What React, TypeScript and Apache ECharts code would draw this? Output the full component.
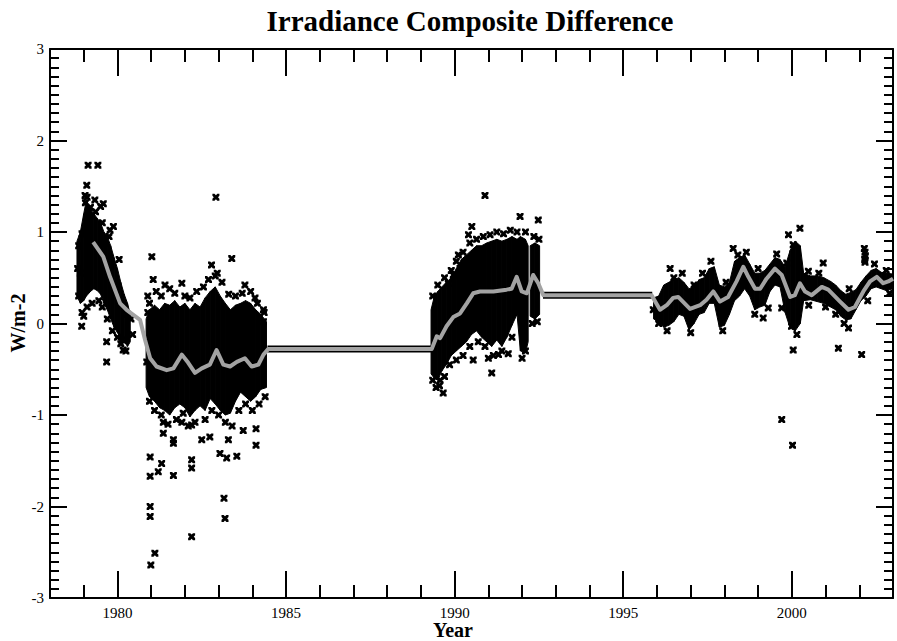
import React, { useEffect, useRef } from 'react';
import * as echarts from 'echarts';

const chartTitle = 'Irradiance Composite Difference';
const xAxisName = 'Year';
const yAxisName = 'W/m-2';
const xMajorTicks = [1980, 1985, 1990, 1995, 2000];

// envelope of the dense daily points: [year, low, high, segment]
const coreEnvelope: number[][] = [
  [1978.80, 0.30, 0.90, 0], [1978.90, 0.22, 1.00, 0], [1979.00, 0.25, 1.20, 0],
  [1979.08, 0.30, 1.35, 0], [1979.20, 0.35, 1.25, 0], [1979.30, 0.38, 1.20, 0],
  [1979.40, 0.36, 1.15, 0], [1979.50, 0.32, 1.10, 0], [1979.60, 0.22, 1.00, 0],
  [1979.70, 0.15, 0.95, 0], [1979.80, 0.05, 0.85, 0], [1979.90, -0.04, 0.72, 0],
  [1980.00, -0.10, 0.60, 0], [1980.10, -0.16, 0.45, 0], [1980.20, -0.20, 0.32, 0],
  [1980.30, -0.25, 0.22, 0], [1980.38, -0.20, 0.10, 0],
  [1980.85, -0.70, 0.05, 1], [1980.95, -0.80, 0.15, 1], [1981.10, -0.85, 0.20, 1],
  [1981.25, -0.92, 0.15, 1], [1981.40, -0.95, 0.22, 1], [1981.55, -1.00, 0.20, 1],
  [1981.70, -0.92, 0.25, 1], [1981.85, -0.88, 0.18, 1], [1982.00, -0.92, 0.22, 1],
  [1982.15, -1.02, 0.15, 1], [1982.30, -0.95, 0.22, 1], [1982.45, -0.90, 0.18, 1],
  [1982.60, -0.95, 0.28, 1], [1982.75, -0.82, 0.35, 1], [1982.90, -0.88, 0.40, 1],
  [1983.05, -0.95, 0.30, 1], [1983.20, -1.00, 0.22, 1], [1983.35, -0.98, 0.15, 1],
  [1983.50, -0.85, 0.20, 1], [1983.65, -0.75, 0.22, 1], [1983.80, -0.80, 0.25, 1],
  [1983.95, -0.85, 0.22, 1], [1984.10, -0.80, 0.15, 1], [1984.25, -0.72, 0.10, 1],
  [1984.42, -0.70, 0.02, 1],
  [1989.30, -0.55, 0.15, 2], [1989.40, -0.60, 0.30, 2], [1989.50, -0.62, 0.35, 2],
  [1989.62, -0.52, 0.40, 2], [1989.75, -0.45, 0.45, 2], [1989.90, -0.35, 0.50, 2],
  [1990.05, -0.30, 0.60, 2], [1990.20, -0.25, 0.70, 2], [1990.35, -0.20, 0.75, 2],
  [1990.50, -0.12, 0.80, 2], [1990.65, -0.08, 0.85, 2], [1990.80, -0.15, 0.85, 2],
  [1990.95, -0.20, 0.88, 2], [1991.10, -0.25, 0.90, 2], [1991.25, -0.18, 0.92, 2],
  [1991.40, -0.25, 0.90, 2], [1991.55, -0.15, 0.92, 2], [1991.70, -0.02, 0.95, 2],
  [1991.85, 0.10, 0.92, 2], [1991.95, -0.30, 0.95, 2], [1992.10, -0.32, 0.92, 2],
  [1992.18, -0.20, 0.85, 2],
  [1992.24, 0.08, 0.85, 3], [1992.38, 0.05, 0.88, 3], [1992.52, 0.10, 0.85, 3],
  [1995.90, 0.05, 0.28, 4], [1996.05, 0.02, 0.30, 4], [1996.20, -0.04, 0.42, 4],
  [1996.35, -0.02, 0.45, 4], [1996.50, 0.02, 0.48, 4], [1996.65, 0.10, 0.50, 4],
  [1996.80, 0.08, 0.45, 4], [1996.95, -0.07, 0.38, 4], [1997.10, 0.00, 0.40, 4],
  [1997.25, 0.10, 0.48, 4], [1997.40, 0.12, 0.50, 4], [1997.55, 0.22, 0.60, 4],
  [1997.70, 0.22, 0.62, 4], [1997.85, -0.04, 0.42, 4], [1998.00, -0.02, 0.40, 4],
  [1998.15, 0.10, 0.45, 4], [1998.30, 0.25, 0.68, 4], [1998.45, 0.30, 0.72, 4],
  [1998.60, 0.38, 0.75, 4], [1998.75, 0.30, 0.65, 4], [1998.90, 0.15, 0.55, 4],
  [1999.05, 0.18, 0.55, 4], [1999.20, 0.20, 0.58, 4], [1999.35, 0.35, 0.65, 4],
  [1999.50, 0.42, 0.72, 4], [1999.65, 0.40, 0.70, 4], [1999.80, 0.12, 0.62, 4],
  [1999.95, -0.05, 0.80, 4], [2000.10, -0.08, 0.90, 4], [2000.25, 0.00, 0.85, 4],
  [2000.35, 0.25, 0.55, 4], [2000.55, 0.26, 0.52, 4], [2000.75, 0.24, 0.52, 4],
  [2000.95, 0.22, 0.50, 4], [2001.15, 0.18, 0.46, 4], [2001.30, 0.15, 0.42, 4],
  [2001.45, 0.08, 0.36, 4], [2001.60, 0.04, 0.32, 4], [2001.75, 0.05, 0.34, 4],
  [2001.90, 0.15, 0.37, 4], [2002.05, 0.25, 0.45, 4], [2002.20, 0.30, 0.52, 4],
  [2002.35, 0.38, 0.58, 4], [2002.50, 0.40, 0.60, 4], [2002.65, 0.38, 0.56, 4],
  [2002.80, 0.36, 0.55, 4], [2003.00, 0.38, 0.54, 4],
];

// individual daily points around the dense core
const scatterPoints: number[][] = [
  [1979.13, 1.73], [1979.42, 1.73], [1979.09, 1.51], [1979.04, 1.40], [1979.33, 1.35],
  [1979.58, 1.31], [1979.88, 1.06], [1978.94, -0.03], [1979.68, -0.20], [1979.68, -0.42],
  [1980.13, -0.18], [1980.17, -0.29], [1978.85, 0.30], [1978.90, 0.55], [1978.85, 0.85],
  [1978.95, 0.98], [1979.05, 1.32], [1979.10, 1.38], [1979.20, 1.27], [1979.35, 1.22],
  [1979.50, 1.28], [1979.55, 1.10], [1979.75, 0.95], [1979.62, 0.88], [1978.95, 0.12],
  [1979.00, 0.08], [1979.10, 0.18], [1979.25, 0.22], [1979.45, 0.25], [1979.70, 0.05],
  [1979.85, -0.08], [1980.00, -0.15], [1980.10, -0.22], [1980.25, -0.30], [1980.30, 0.10],
  [1980.40, 0.05], [1980.45, -0.12], [1980.87, -0.42], [1980.90, 0.12], [1978.82, 0.60],
  [1979.55, 0.18], [1979.78, 1.02], [1980.05, 0.70],
  [1981.02, 0.73], [1981.06, 0.48], [1983.39, 0.71], [1982.79, 0.64], [1982.96, 0.55],
  [1981.41, 0.42], [1981.91, 0.44], [1983.78, 0.42], [1984.08, 0.28], [1984.33, 0.15],
  [1984.33, 0.02], [1982.92, 1.38],
  [1981.36, -1.20], [1981.66, -1.27], [1981.66, -1.31], [1980.97, -1.46], [1981.31, -1.53],
  [1981.21, -1.62], [1980.97, -1.67], [1981.66, -1.66], [1982.20, -1.49], [1982.20, -1.58],
  [1982.50, -1.27], [1982.74, -1.24], [1983.04, -1.42], [1983.24, -1.47], [1983.54, -1.45],
  [1983.73, -1.17], [1984.11, -1.15], [1984.11, -1.33], [1983.29, -1.27], [1981.91, -1.08],
  [1982.20, -1.11], [1981.36, -1.08], [1980.97, -2.00], [1980.97, -2.11], [1983.16, -1.91],
  [1983.19, -2.13], [1982.20, -2.33], [1981.11, -2.51], [1980.99, -2.64],
  [1980.90, 0.30], [1980.95, 0.22], [1981.15, 0.35], [1981.30, 0.30], [1981.55, 0.38],
  [1981.70, 0.33], [1982.00, 0.30], [1982.15, 0.28], [1982.35, 0.35], [1982.55, 0.40],
  [1982.70, 0.48], [1982.90, 0.52], [1983.10, 0.45], [1983.30, 0.32], [1983.50, 0.30],
  [1983.70, 0.33], [1983.95, 0.35], [1984.15, 0.22], [1984.35, 0.12],
  [1980.95, -0.85], [1981.10, -0.95], [1981.30, -1.00], [1981.50, -1.10], [1981.75, -1.05],
  [1981.95, -0.98], [1982.10, -1.12], [1982.30, -1.08], [1982.60, -1.05], [1982.80, -0.95],
  [1983.00, -1.00], [1983.20, -1.08], [1983.40, -1.12], [1983.60, -0.95], [1983.80, -0.88],
  [1984.00, -0.95], [1984.20, -0.88], [1984.38, -0.80],
  [1990.90, 1.40], [1991.94, 1.17], [1992.48, 1.13], [1990.51, 1.06], [1990.41, 0.97],
  [1990.11, 0.75], [1990.16, 0.60], [1989.96, 0.53], [1989.81, 0.44], [1990.55, -0.40],
  [1991.00, -0.38], [1991.30, -0.34], [1991.10, -0.54], [1991.59, -0.33], [1989.66, -0.76],
  [1989.57, -0.62],
  [1989.35, 0.30], [1989.50, 0.42], [1989.70, 0.50], [1989.90, 0.58], [1990.05, 0.68],
  [1990.25, 0.78], [1990.45, 0.88], [1990.65, 0.92], [1990.85, 0.95], [1991.05, 0.97],
  [1991.25, 1.00], [1991.45, 0.98], [1991.65, 1.02], [1991.85, 1.00], [1992.10, 1.00],
  [1992.35, 0.95], [1992.50, 0.92],
  [1989.35, -0.62], [1989.45, -0.70], [1989.55, -0.68], [1989.70, -0.58], [1989.85, -0.45],
  [1990.05, -0.40], [1990.25, -0.35], [1990.45, -0.25], [1990.70, -0.20], [1990.90, -0.25],
  [1991.15, -0.35], [1991.40, -0.30], [1991.70, -0.15], [1992.00, -0.38], [1992.10, -0.30],
  [1992.30, 0.00], [1992.45, 0.02],
  [1996.05, 0.00], [1996.30, -0.08], [1996.50, 0.50], [1996.75, 0.55], [1997.00, -0.10],
  [1997.10, 0.42], [1997.35, 0.55], [1997.60, 0.68], [1997.95, -0.08], [1998.05, 0.45],
  [1998.40, 0.75], [1998.65, 0.78], [1998.90, 0.10], [1999.00, 0.60], [1999.55, 0.76],
  [1999.85, 0.66], [2000.15, -0.12], [2000.50, 0.20], [2000.80, 0.55], [2001.00, 0.18],
  [2001.30, 0.10], [2001.55, 0.00], [2001.70, 0.38], [2002.25, 0.25], [2002.45, 0.65],
  [2002.80, 0.58], [2002.90, 0.33],
  [1996.39, 0.60], [1998.26, 0.82], [1999.90, 0.97], [2000.24, 1.04], [2000.04, 0.86],
  [2000.93, 0.66], [2000.49, 0.57], [1999.15, 0.06], [1999.30, 0.17], [1999.70, 0.17],
  [2000.04, -0.29], [1999.99, -0.03], [2001.68, -0.05], [2001.38, -0.27], [2002.07, -0.34],
  [1999.70, -1.05], [2000.02, -1.33], [2002.15, 0.82], [2002.17, 0.78], [2002.18, 0.74],
  [2002.16, 0.70], [2002.17, 0.67], [1995.89, 0.15],
];

// smoothed composite difference (grey curve)
const smoothLine: number[][] = [
  [1979.28, 0.89], [1979.58, 0.73], [1979.78, 0.51], [1980.08, 0.22], [1980.27, 0.15],
  [1980.67, 0.04], [1980.82, -0.18], [1980.97, -0.38], [1981.16, -0.47], [1981.46, -0.51],
  [1981.66, -0.49], [1981.91, -0.34], [1982.10, -0.43], [1982.30, -0.54], [1982.50, -0.49],
  [1982.74, -0.45], [1982.94, -0.29], [1983.14, -0.45], [1983.34, -0.47], [1983.54, -0.42],
  [1983.78, -0.38], [1983.98, -0.47], [1984.18, -0.45], [1984.33, -0.34], [1984.47, -0.28],
  [1989.32, -0.28], [1989.47, -0.14], [1989.57, -0.16], [1989.76, -0.03], [1989.96, 0.07],
  [1990.16, 0.11], [1990.36, 0.22], [1990.55, 0.33], [1990.75, 0.35], [1991.15, 0.35],
  [1991.54, 0.37], [1991.69, 0.38], [1991.84, 0.51], [1991.99, 0.35], [1992.14, 0.33],
  [1992.33, 0.53], [1992.48, 0.44], [1992.63, 0.31], [1995.84, 0.31], [1996.09, 0.15],
  [1996.29, 0.20], [1996.48, 0.28], [1996.63, 0.29], [1996.98, 0.16], [1997.28, 0.20],
  [1997.47, 0.26], [1997.67, 0.35], [1997.87, 0.24], [1998.11, 0.29], [1998.36, 0.46],
  [1998.56, 0.62], [1998.71, 0.51], [1998.91, 0.38], [1999.06, 0.38], [1999.25, 0.49],
  [1999.50, 0.60], [1999.70, 0.53], [1999.95, 0.29], [2000.09, 0.31], [2000.24, 0.44],
  [2000.39, 0.35], [2000.59, 0.31], [2000.89, 0.40], [2001.08, 0.37], [2001.43, 0.24],
  [2001.68, 0.15], [2001.87, 0.18], [2002.12, 0.35], [2002.32, 0.46], [2002.52, 0.51],
  [2002.71, 0.44], [2002.86, 0.46], [2003.00, 0.49],
];

// constant-offset gaps (black band under the grey curve)
const flatSegmentA: number[][] = [[1984.45, -0.28], [1989.34, -0.28]];
const flatSegmentB: number[][] = [[1992.62, 0.31], [1995.86, 0.31]];

const SERIF = '"Liberation Serif", "Times New Roman", serif';
const XSYM = 'path://M0,0 L3,0 L5,2 L7,0 L10,0 L10,3 L8,5 L10,7 L10,10 L7,10 L5,8 L3,10 L0,10 L0,7 L2,5 L0,3 Z';

export default function App() {
  const ref = useRef<HTMLDivElement>(null);
  useEffect(() => {
    document.body.style.margin = '0';
    const chart = echarts.init(ref.current!, null, { renderer: 'svg' });
    const line = { color: '#000', width: 2 };
    const xBase = { type: 'value', min: 1978, max: 2003, interval: 1, splitLine: { show: false } };
    const yBase = { type: 'value', min: -3, max: 3, interval: 1, splitLine: { show: false } };
    chart.setOption({
      animation: false,
      backgroundColor: '#fff',
      grid: { left: 50, right: 4, top: 49, bottom: 43, containLabel: false },
      xAxis: [
        { ...xBase, position: 'bottom', axisLine: { onZero: false, lineStyle: line },
          axisTick: { inside: true, length: 13, lineStyle: line }, axisLabel: { show: false } },
        { ...xBase, position: 'bottom', axisLine: { onZero: false, show: false },
          axisTick: { inside: true, length: 27, customValues: xMajorTicks, lineStyle: line },
          axisLabel: { customValues: xMajorTicks, formatter: (v: number) => String(v),
            fontFamily: SERIF, fontSize: 15, color: '#000', margin: 7 } },
        { ...xBase, position: 'top', axisLine: { onZero: false, lineStyle: line },
          axisTick: { inside: true, length: 13, lineStyle: line }, axisLabel: { show: false } },
        { ...xBase, position: 'top', axisLine: { onZero: false, show: false },
          axisTick: { inside: true, length: 27, customValues: xMajorTicks, lineStyle: line },
          axisLabel: { show: false } },
      ],
      yAxis: [
        { ...yBase, position: 'left', axisLine: { onZero: false, lineStyle: line },
          axisTick: { inside: true, length: 17, lineStyle: line },
          minorTick: { show: true, splitNumber: 10, length: 9, lineStyle: line },
          axisLabel: { fontFamily: SERIF, fontSize: 15, color: '#000', margin: 6 } },
        { ...yBase, position: 'right', axisLine: { onZero: false, lineStyle: line },
          axisTick: { inside: true, length: 17, lineStyle: line },
          minorTick: { show: true, splitNumber: 10, length: 9, lineStyle: line },
          axisLabel: { show: false } },
      ],
      graphic: [
        { type: 'text', x: 470, y: 21, z: 10,
          style: { text: chartTitle, fill: '#000', font: 'bold 29px ' + SERIF,
            align: 'center', verticalAlign: 'middle', textAlign: 'center', textVerticalAlign: 'middle' } },
        { type: 'text', x: 453, y: 630, z: 10,
          style: { text: xAxisName, fill: '#000', font: 'bold 20px ' + SERIF,
            align: 'center', verticalAlign: 'middle', textAlign: 'center', textVerticalAlign: 'middle' } },
        { type: 'text', x: 18, y: 323, rotation: Math.PI / 2, z: 10,
          style: { text: yAxisName, fill: '#000', font: 'bold 20px ' + SERIF,
            align: 'center', verticalAlign: 'middle', textAlign: 'center', textVerticalAlign: 'middle' } },
      ],
      series: [
        {
          type: 'custom', xAxisIndex: 0, yAxisIndex: 0, z: 2, clip: true,
          data: coreEnvelope,
          encode: { x: 0, y: [1, 2] },
          renderItem: (params: any, api: any) => {
            const i = params.dataIndex;
            const cur = coreEnvelope[i];
            const nxt = coreEnvelope[i + 1];
            if (!nxt || nxt[3] !== cur[3]) return null;
            const pts = [
              api.coord([cur[0], cur[1]]),
              api.coord([cur[0], cur[2]]),
              api.coord([nxt[0], nxt[2]]),
              api.coord([nxt[0], nxt[1]]),
            ];
            return {
              type: 'polygon',
              shape: { points: pts },
              style: { fill: '#000', stroke: '#000', lineWidth: 1 },
            };
          },
        },
        {
          type: 'scatter', xAxisIndex: 0, yAxisIndex: 0, z: 3,
          data: scatterPoints, symbol: XSYM, symbolSize: 7,
          itemStyle: { color: '#000', opacity: 1 },
        },
        {
          type: 'line', xAxisIndex: 0, yAxisIndex: 0, z: 4, data: flatSegmentA,
          showSymbol: false, symbol: 'none', lineStyle: { color: '#000', width: 7 },
        },
        {
          type: 'line', xAxisIndex: 0, yAxisIndex: 0, z: 4, data: flatSegmentB,
          showSymbol: false, symbol: 'none', lineStyle: { color: '#000', width: 7 },
        },
        {
          type: 'line', xAxisIndex: 0, yAxisIndex: 0, z: 5, data: smoothLine,
          showSymbol: false, symbol: 'none', lineStyle: { color: '#a3a3a3', width: 4, join: 'round' },
        },
      ],
    });
    return () => chart.dispose();
  }, []);
  return <div ref={ref} style={{ position: 'fixed', left: 0, top: 0, width: 897, height: 641 }} />;
}
